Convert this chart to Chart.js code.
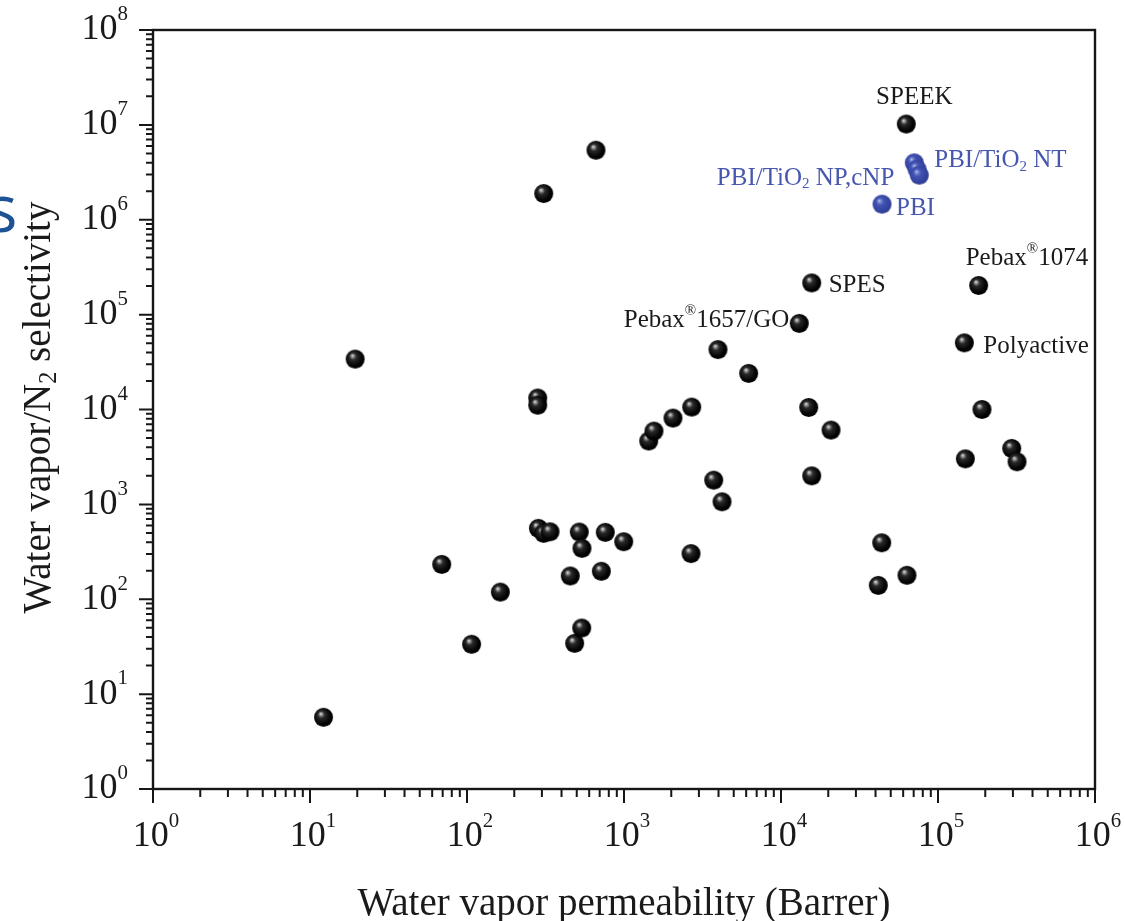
<!DOCTYPE html>
<html>
<head>
<meta charset="utf-8">
<script src="https://cdn.jsdelivr.net/npm/chart.js@4.4.1/dist/chart.umd.min.js"></script>
<style>
  html, body { margin: 0; padding: 0; background: #fff; overflow: hidden; }
  #wrap { position: relative; width: 1125px; height: 921px; }
</style>
</head>
<body>
<div id="wrap"><canvas id="c" width="1125" height="921"></canvas></div>
<script>
// Water vapour permeability (Barrer) vs. water vapour / N2 selectivity
const permeability = [12.2, 19.4, 69, 107, 163, 282, 282, 285, 308, 338, 308, 663, 455, 485, 519, 538, 540, 717, 760, 996,
  1437, 1552, 2051, 2700, 2672, 3727, 4210, 3968, 6223, 13080, 15690, 15010, 20820, 15690, 43800, 63460, 41660, 62820,
  181600, 147100, 190600, 149300, 294700, 318600];
const selectivity = [5.7, 34000, 233, 33.5, 119, 13200, 11100, 559, 495, 514, 1890000, 5410000, 176, 34.3, 511, 49.7, 344, 197, 507, 404,
  4650, 5920, 8120, 10600, 303, 1800, 1065, 42800, 24000, 80800, 216000, 10500, 6070, 2000, 394, 179, 140, 10200000,
  203000, 50400, 10000, 3020, 3890, 2810];

// PBI-based membranes
const pbiPermeability = [70600, 73500, 76000, 44000];
const pbiSelectivity = [3980000, 3410000, 2950000, 1460000];

const xTickExponents = [0, 1, 2, 3, 4, 5, 6];
const yTickExponents = [0, 1, 2, 3, 4, 5, 6, 7, 8];

const xTitle = 'Water vapor permeability (Barrer)';
const yTitle = 'Water vapor/N_{2} selectivity';

// Point labels: text, dataset, point index
const labelTexts = ['SPEEK', 'Pebax^{®}1074', 'SPES', 'Pebax^{®}1657/GO', 'Polyactive', 'PBI/TiO_{2} NT', 'PBI/TiO_{2} NP,cNP', 'PBI'];
const labelDatasets = [0, 0, 0, 0, 0, 1, 1, 1];
const labelIndices = [37, 38, 30, 29, 39, 0, 2, 3];

// Label placement relative to the labelled point
const labelPlacement = [
  { dx: 8, dy: -27, align: 'center', color: '#1a1a1a' },
  { dx: -13, dy: -27, align: 'left', color: '#1a1a1a' },
  { dx: 17, dy: 3, align: 'left', color: '#1a1a1a' },
  { dx: -10, dy: -3, align: 'right', color: '#1a1a1a' },
  { dx: 19, dy: 4, align: 'left', color: '#1a1a1a' },
  { dx: 20, dy: -2, align: 'left', color: '#4757b0' },
  { dx: -25, dy: 3, align: 'right', color: '#4757b0' },
  { dx: 14, dy: 4, align: 'left', color: '#4757b0' }
];

const SERIF = '"Liberation Serif", "DejaVu Serif", serif';

function makeSphere(r, stops) {
  const s = document.createElement('canvas');
  const size = Math.ceil(r * 2 + 2);
  s.width = size; s.height = size;
  const g = s.getContext('2d');
  const c = size / 2;
  const grad = g.createRadialGradient(c - r * 0.3, c - r * 0.38, 0, c - r * 0.1, c - r * 0.1, r * 1.05);
  stops.forEach(([o, col]) => grad.addColorStop(o, col));
  g.fillStyle = grad;
  g.beginPath();
  g.arc(c, c, r, 0, Math.PI * 2);
  g.fill();
  return s;
}

const blackSphere = makeSphere(9.5, [[0, '#f2f2f2'], [0.13, '#9a9a9a'], [0.35, '#2a2a2a'], [0.8, '#050505'], [1, '#000']]);
const blueSphere = makeSphere(9.5, [[0, '#d8dcf6'], [0.15, '#7886d4'], [0.4, '#4252b2'], [0.85, '#33439e'], [1, '#2e3c92']]);

// Draws text with ^{sup} and _{sub} segments
function parseRich(str) {
  const out = [];
  const re = /([\^_])\{([^}]*)\}/g;
  let last = 0, m;
  while ((m = re.exec(str)) !== null) {
    if (m.index > last) out.push({ t: str.slice(last, m.index), k: 'n' });
    out.push({ t: m[2], k: m[1] === '^' ? 'sup' : 'sub' });
    last = re.lastIndex;
  }
  if (last < str.length) out.push({ t: str.slice(last), k: 'n' });
  return out;
}

function drawRich(ctx, str, x, y, size, align, color, supScale, supRise) {
  const segs = parseRich(str);
  const ss = supScale || 0.62;
  const rise = supRise || 0.4;
  let total = 0;
  segs.forEach(s => {
    ctx.font = (s.k === 'n' ? size : size * ss) + 'px ' + SERIF;
    s.w = ctx.measureText(s.t).width;
    total += s.w;
  });
  let cx = align === 'center' ? x - total / 2 : align === 'right' ? x - total : x;
  ctx.fillStyle = color;
  ctx.textBaseline = 'middle';
  ctx.textAlign = 'left';
  segs.forEach(s => {
    ctx.font = (s.k === 'n' ? size : size * ss) + 'px ' + SERIF;
    let yy = y;
    if (s.k === 'sup') yy = y - size * rise;
    if (s.k === 'sub') yy = y + size * 0.25;
    ctx.fillText(s.t, cx, yy);
    cx += s.w;
  });
}

const frame = {
  id: 'frame',
  afterDatasetsDraw(chart) {
    const { ctx, chartArea: a, scales } = chart;
    const xs = scales.x, ys = scales.y;
    ctx.save();
    ctx.strokeStyle = '#161616';
    ctx.lineWidth = 2.4;
    ctx.strokeRect(a.left, a.top, a.right - a.left, a.bottom - a.top);

    ctx.lineWidth = 2;
    ctx.beginPath();
    // x ticks (outward, below the bottom axis)
    xTickExponents.forEach((e, i) => {
      const px = xs.getPixelForValue(Math.pow(10, e));
      ctx.moveTo(px, a.bottom); ctx.lineTo(px, a.bottom + 14);
      if (i < xTickExponents.length - 1) {
        for (let m = 2; m <= 9; m++) {
          const mx = xs.getPixelForValue(m * Math.pow(10, e));
          ctx.moveTo(mx, a.bottom); ctx.lineTo(mx, a.bottom + 8);
        }
      }
    });
    // y ticks (outward, left of the left axis)
    yTickExponents.forEach((e, i) => {
      const py = ys.getPixelForValue(Math.pow(10, e));
      ctx.moveTo(a.left, py); ctx.lineTo(a.left - 14, py);
      if (i < yTickExponents.length - 1) {
        for (let m = 2; m <= 9; m++) {
          const my = ys.getPixelForValue(m * Math.pow(10, e));
          ctx.moveTo(a.left, my); ctx.lineTo(a.left - 7, my);
        }
      }
    });
    ctx.stroke();

    // tick labels
    xTickExponents.forEach(e => {
      const px = xs.getPixelForValue(Math.pow(10, e));
      drawRich(ctx, '10^{' + e + '}', px + 3, a.bottom + 48, 36, 'center', '#1a1a1a', 0.58, 0.42);
    });
    yTickExponents.forEach(e => {
      const py = ys.getPixelForValue(Math.pow(10, e));
      drawRich(ctx, '10^{' + e + '}', a.left - 25, py, 36, 'right', '#1a1a1a', 0.58, 0.42);
    });

    // axis titles
    drawRich(ctx, xTitle, (a.left + a.right) / 2, a.bottom + 116, 39, 'center', '#1a1a1a', 0.62, 0.4);
    ctx.save();
    ctx.translate(40, (a.top + a.bottom) / 2 - 2);
    ctx.rotate(-Math.PI / 2);
    drawRich(ctx, yTitle, 0, 0, 39, 'center', '#1a1a1a');
    ctx.restore();

    // point labels
    labelTexts.forEach((t, i) => {
      const meta = chart.getDatasetMeta(labelDatasets[i]);
      const el = meta.data[labelIndices[i]];
      const p = labelPlacement[i];
      drawRich(ctx, t, el.x + p.dx, el.y + p.dy, 25, p.align, p.color, 0.6, 0.38);
    });

    // slide text cut off at the left edge
    ctx.fillStyle = '#1d5394';
    ctx.font = '66px "Open Sans", "Noto Sans", sans-serif';
    ctx.textBaseline = 'alphabetic';
    ctx.textAlign = 'left';
    ctx.fillText('s', -14, 232);
    ctx.restore();
  }
};

new Chart(document.getElementById('c'), {
  type: 'scatter',
  data: {
    datasets: [
      {
        data: permeability.map((v, i) => ({ x: v, y: selectivity[i] })),
        pointStyle: blackSphere,
        pointRadius: 9
      },
      {
        data: pbiPermeability.map((v, i) => ({ x: v, y: pbiSelectivity[i] })),
        pointStyle: blueSphere,
        pointRadius: 9
      }
    ]
  },
  options: {
    responsive: false,
    animation: false,
    events: [],
    layout: { padding: { left: 153, right: 30, top: 30, bottom: 132 } },
    plugins: { legend: { display: false }, tooltip: { enabled: false } },
    scales: {
      x: { type: 'logarithmic', min: 1, max: 1e6, display: false },
      y: { type: 'logarithmic', min: 1, max: 1e8, display: false }
    }
  },
  plugins: [frame]
});
</script>
</body>
</html>
